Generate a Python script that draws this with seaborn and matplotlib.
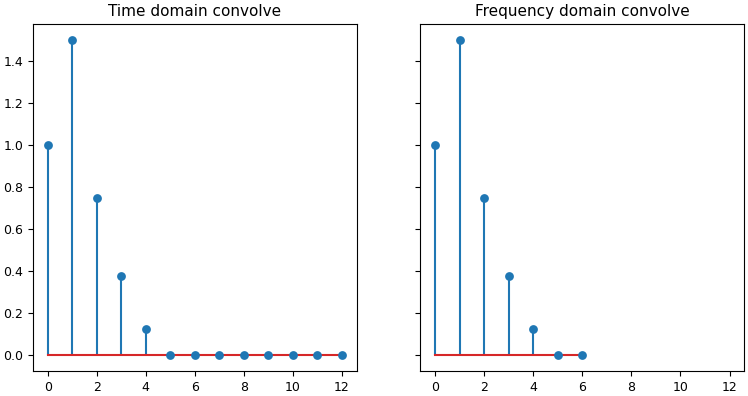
import numpy as np
import pandas as pd
import seaborn as sns
import matplotlib
matplotlib.use('Agg')
import matplotlib.pyplot as plt

# Data
time_idx = [0, 1, 2, 3, 4, 5, 6, 7, 8, 9, 10, 11, 12]
time_vals = [1.0, 1.5, 0.75, 0.375, 0.125, 0, 0, 0, 0, 0, 0, 0, 0]
freq_idx = [0, 1, 2, 3, 4, 5, 6]
freq_vals = [1.0, 1.5, 0.75, 0.375, 0.125, 0, 0]
titles = ['Time domain convolve', 'Frequency domain convolve']

stem_color = '#1f77b4'
base_color = '#d62728'

fig, axes = plt.subplots(1, 2, figsize=(7.48, 3.96), dpi=100, sharex=True, sharey=True)
fig.subplots_adjust(left=0.044, right=0.995, top=0.939, bottom=0.063, wspace=0.197)

for ax, idx, vals, title in zip(axes, [time_idx, freq_idx], [time_vals, freq_vals], titles):
    df = pd.DataFrame({'n': idx, 'y': vals})
    # stems
    ax.vlines(df['n'], 0, df['y'], color=stem_color, linewidth=1.5, zorder=2)
    # markers
    sns.scatterplot(data=df, x='n', y='y', ax=ax, color=stem_color, s=40,
                    edgecolor=stem_color, linewidth=0, zorder=3, legend=False)
    # baseline
    ax.plot([min(idx), max(idx)], [0, 0], color=base_color, linewidth=1.5, zorder=2.5)
    ax.set_title(title, fontsize=11)
    ax.set_xlabel('')
    ax.set_ylabel('')
    ax.tick_params(labelsize=9)

axes[0].set_xlim(-0.6, 12.6)
axes[0].set_ylim(-0.075, 1.575)
axes[0].set_xticks(np.arange(0, 13, 2))
axes[0].set_yticks(np.arange(0, 1.5, 0.2))

plt.savefig('out.png', dpi=100)
